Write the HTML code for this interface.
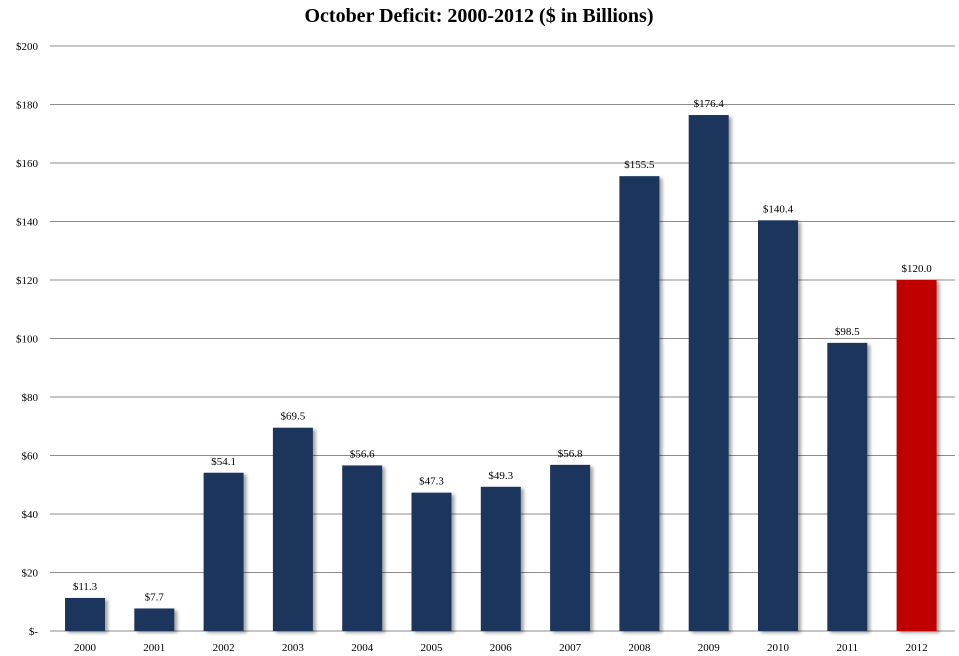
<!DOCTYPE html>
<html><head><meta charset="utf-8"><style>
body{margin:0;background:#fff;}
svg{display:block;font-family:"Liberation Serif",serif;}
</style></head><body>
<svg id="chart" width="959" height="656" viewBox="0 0 959 656">
<defs><filter id="sh" x="-20%" y="-5%" width="150%" height="120%"><feDropShadow dx="3" dy="2" stdDeviation="1.5" flood-color="#000" flood-opacity="0.35"/></filter></defs>
<text x="479" y="22" text-anchor="middle" font-size="20" font-weight="bold" fill="#000">October Deficit: 2000-2012 ($ in Billions)</text>
<g id="grid"></g><g id="bars"></g>
</svg>
<script>
const categories=["2000","2001","2002","2003","2004","2005","2006","2007","2008","2009","2010","2011","2012"];
const values=[11.3,7.7,54.1,69.5,56.6,47.3,49.3,56.8,155.5,176.4,140.4,98.5,120.0];
const valueLabels=["$11.3","$7.7","$54.1","$69.5","$56.6","$47.3","$49.3","$56.8","$155.5","$176.4","$140.4","$98.5","$120.0"];
const ticks=[0,20,40,60,80,100,120,140,160,180,200];
const tickLabels=["$-","$20","$40","$60","$80","$100","$120","$140","$160","$180","$200"];
const NS="http://www.w3.org/2000/svg";
const y0=631,yTop=46,vmax=200;
const y=v=>y0-(y0-yTop)*v/vmax;
const x=i=>85+i*69.3;
const bw=40;
function mk(t,a,p){const e=document.createElementNS(NS,t);for(const k in a)e.setAttribute(k,a[k]);p.appendChild(e);return e;}
const g=document.getElementById('grid'),b=document.getElementById('bars');
ticks.forEach((t,i)=>{
 const l=mk('line',{x1:50,x2:955,y1:y(t),y2:y(t),stroke:'#8c8c8c','stroke-width':1},g);
 
 
 const tx=mk('text',{x:38,y:y(t)+4,'text-anchor':'end','font-size':11,fill:'#000'},g);
 tx.textContent=tickLabels[i];
 
 
});
categories.forEach((c,i)=>{
 const r=mk('rect',{x:x(i)-bw/2,y:y(values[i]),width:bw,height:y0-y(values[i]),fill:c==="2012"?'#c00000':'#1b365d',filter:'url(#sh)'},b);
 
 
 const vl=mk('text',{x:x(i),y:y(values[i])-8,'text-anchor':'middle','font-size':11,fill:'#000'},b);
 vl.textContent=valueLabels[i];
 
 
 const cl=mk('text',{x:x(i),y:651,'text-anchor':'middle','font-size':11,fill:'#000'},b);
 cl.textContent=c;
 
 
});
</script>
</body></html>
